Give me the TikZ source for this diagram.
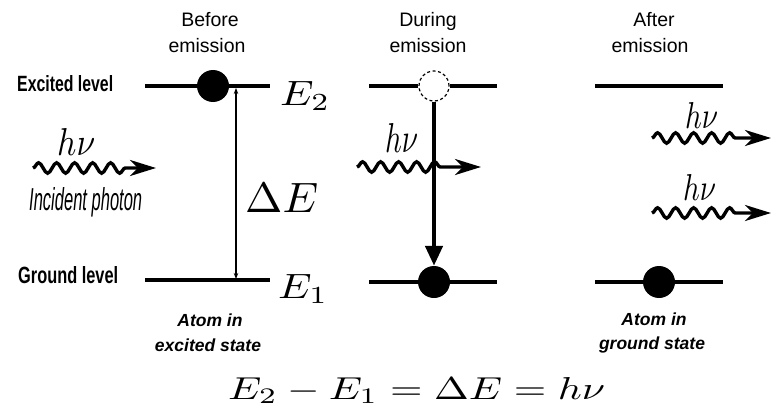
\documentclass[tikz,border=0pt]{standalone}
\usepackage{fontspec}
\setsansfont{Liberation Sans}
\usepackage{graphicx}
\usetikzlibrary{decorations.pathmorphing,arrows.meta}
\begin{document}
\begin{tikzpicture}[x=1pt,y=-1pt,
  level/.style={line width=3.4pt},
  ball/.style={circle, fill=black, inner sep=0pt, minimum size=32pt},
  ghost/.style={circle, draw, line width=1.2pt, dash pattern=on 3pt off 2.5pt, inner sep=0pt, minimum size=30pt},
  photon/.style={line width=3.4pt, decorate,
     decoration={snake, amplitude=5.2pt, segment length=18pt, post length=#1},
     -{Stealth[length=26pt,width=16pt,inset=8pt]}},
  photon/.default=30pt,
  head/.style={font=\sffamily\fontsize{19.5}{23}\selectfont, anchor=base, inner sep=0pt},
  state/.style={font=\sffamily\bfseries\itshape\fontsize{17.5}{21}\selectfont, anchor=base, inner sep=0pt},
  lbl/.style={anchor=base west, inner sep=0pt}]

\useasboundingbox (0,0) rectangle (771,412);

% headers
\node[head] (h1a) at (210,26.7) {Before};
\node[head] (h1b) at (207,52.7) {emission};
\node[head] (h2a) at (428,26.7) {During};
\node[head] (h2b) at (428,52.7) {emission};
\node[head] (h3a) at (654,26.7) {After};
\node[head] (h3b) at (650,52.7) {emission};

% side labels
\node[lbl] (exc) at (17,91) {\resizebox{96pt}{16pt}{\sffamily\bfseries Excited level}};
\node[lbl] (gnd) at (18,283) {\resizebox{100pt}{17pt}{\sffamily\bfseries Ground level}};

% ---------- before emission ----------
\coordinate (L1a) at (145,86);
\coordinate (L1b) at (270,86);
\coordinate (L2a) at (145,280);
\coordinate (L2b) at (270,280);
\draw[level] (L1a) -- (L1b);
\draw[level] (L2a) -- (L2b);
\node[ball] (b1) at (213,86) {};
\coordinate (dEtop) at (236,88);
\coordinate (dEbot) at (236,279);
\draw[line width=1.1pt, {Stealth[length=6pt,width=4.5pt]}-{Stealth[length=6pt,width=4.5pt]}] (dEbot) -- (dEtop);
\node[lbl] (E2) at (280,105) {\resizebox{50pt}{24pt}{$E_2$}};
\node[lbl] (E1) at (278,298) {\resizebox{50pt}{24pt}{$E_1$}};
\node[lbl] (dE) at (245,212) {\resizebox{73pt}{29pt}{$\Delta E$}};

\coordinate (p1s) at (33,168);
\coordinate (p1e) at (156,168);
\draw[photon] (p1s) -- (p1e);
\node[lbl] (hv1) at (57,155) {\resizebox{38pt}{27pt}{$h\nu$}};
\node[lbl] (inc) at (29,210) {\resizebox{113pt}{23pt}{\sffamily\itshape Incident photon}};

\node[state] (s1a) at (210,326) {Atom in};
\node[state] (s1b) at (208,351) {excited state};

% ---------- during emission ----------
\node[ghost] (g2) at (434,86) {};
\coordinate (M1a) at (369,86);
\coordinate (M1b) at (497,86);
\coordinate (M2a) at (369,282);
\coordinate (M2b) at (497,282);
\draw[level] (M1a) -- (g2.west);
\draw[level] (g2.east) -- (M1b);
\draw[level] (M2a) -- (M2b);
\node[ball] (b2) at (434,282) {};
\coordinate (p2s) at (357,167);
\coordinate (p2e) at (481,167);
\draw[photon=38pt] (p2s) -- (p2e);
\node[lbl] (hv2) at (385,152) {\resizebox{33pt}{29pt}{$h\nu$}};
\draw[line width=4.5pt, -{Triangle[length=20pt,width=17pt]}] (g2.south) -- (b2.north);

% ---------- after emission ----------
\coordinate (R1a) at (595,86);
\coordinate (R1b) at (723,86);
\coordinate (R2a) at (595,282);
\coordinate (R2b) at (723,282);
\draw[level] (R1a) -- (R1b);
\draw[level] (R2a) -- (R2b);
\node[ball] (b3) at (659,282) {};
\coordinate (p3s) at (652,138);
\coordinate (p3e) at (771,138);
\coordinate (p4s) at (652,213);
\coordinate (p4e) at (771,213);
\draw[photon] (p3s) -- (p3e);
\draw[photon] (p4s) -- (p4e);
\node[lbl] (hv3) at (685,128) {\resizebox{33pt}{26pt}{$h\nu$}};
\node[lbl] (hv4) at (683,200) {\resizebox{33pt}{26pt}{$h\nu$}};

\node[state] (s3a) at (654,325) {Atom in};
\node[state] (s3b) at (652,349) {ground state};

% equation
\node[lbl] (eq) at (228,399) {\resizebox{377pt}{22pt}{$E_2 - E_1 = \Delta E = h\nu$}};
\end{tikzpicture}
\end{document}
